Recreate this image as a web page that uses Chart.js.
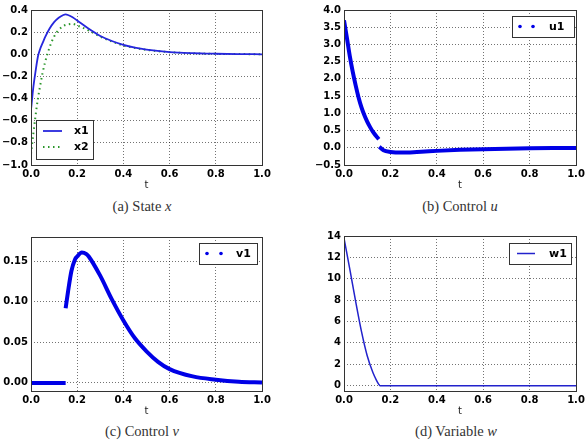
<!DOCTYPE html>
<html><head><meta charset="utf-8">
<script src="https://cdn.jsdelivr.net/npm/chart.js@4/dist/chart.umd.min.js"></script>
<style>
html,body{margin:0;padding:0;background:#fff;}
body{width:588px;height:441px;position:relative;overflow:hidden;}
.panel{position:absolute;}
.cap{position:absolute;font-family:"Liberation Serif","DejaVu Serif",serif;font-size:14.5px;color:#333;text-align:center;width:200px;white-space:nowrap;}
.cap i{font-style:italic;}
</style></head><body>
<div class="panel" style="left:0;top:0;width:294px;height:192px"><canvas id="ca"></canvas></div>
<div class="panel" style="left:294px;top:0;width:294px;height:192px"><canvas id="cb"></canvas></div>
<div class="panel" style="left:0;top:220px;width:294px;height:198px"><canvas id="cc"></canvas></div>
<div class="panel" style="left:294px;top:220px;width:294px;height:198px"><canvas id="cd"></canvas></div>
<div class="cap" style="left:42px;top:198px">(a) State <i>x</i></div>
<div class="cap" style="left:360px;top:198px">(b) Control <i>u</i></div>
<div class="cap" style="left:42px;top:423px">(c) Control <i>v</i></div>
<div class="cap" style="left:356px;top:423px">(d) Variable <i>w</i></div>
<script>
// ---- data ----
const xTicks = [0, 0.2, 0.4, 0.6, 0.8, 1.0];

const tState = [0, 0.01, 0.02, 0.03, 0.04, 0.05, 0.06, 0.08, 0.1, 0.12, 0.14, 0.15, 0.16, 0.18, 0.2, 0.25, 0.3, 0.35, 0.4, 0.45, 0.5, 0.6, 0.7, 0.8, 0.9, 1.0];
const x1 = [-0.5, -0.30, -0.15, -0.02, 0.05, 0.10, 0.15, 0.23, 0.29, 0.33, 0.355, 0.36, 0.355, 0.335, 0.305, 0.23, 0.165, 0.12, 0.085, 0.06, 0.042, 0.02, 0.01, 0.005, 0.002, 0.0];
const x2 = [-0.9, -0.72, -0.55, -0.40, -0.28, -0.17, -0.08, 0.06, 0.16, 0.22, 0.255, 0.265, 0.27, 0.275, 0.26, 0.215, 0.16, 0.115, 0.08, 0.057, 0.04, 0.019, 0.009, 0.004, 0.002, 0.0];

const tUEarly = [0, 0.0125, 0.025, 0.0375, 0.05, 0.0625, 0.075, 0.0875, 0.1, 0.1125, 0.125, 0.1375, 0.15];
const u1Early = [3.7, 3.19, 2.66, 2.21, 1.82, 1.47, 1.18, 0.95, 0.76, 0.6, 0.46, 0.35, 0.25];
const tULate = [0.152, 0.17, 0.2, 0.25, 0.3, 0.35, 0.4, 0.5, 0.6, 0.7, 0.8, 0.9, 1.0];
const u1Late = [0.03, -0.07, -0.12, -0.14, -0.13, -0.11, -0.09, -0.06, -0.04, -0.025, -0.015, -0.008, -0.004];

const tVEarly = [0, 0.15];
const v1Early = [0, 0];
const tVLate = [0.15, 0.16, 0.175, 0.19, 0.2, 0.22, 0.24, 0.25, 0.3, 0.35, 0.4, 0.45, 0.5, 0.55, 0.6, 0.7, 0.8, 0.9, 1.0];
const v1Late = [0.092, 0.112, 0.138, 0.152, 0.156, 0.161, 0.159, 0.156, 0.132, 0.103, 0.077, 0.055, 0.039, 0.026, 0.017, 0.008, 0.004, 0.0015, 0.0005];

const tW = [0, 0.025, 0.05, 0.075, 0.1, 0.125, 0.14, 0.15, 0.155, 1.0];
const w1 = [13.8, 10.9, 7.9, 5.1, 2.8, 1.2, 0.5, 0.12, 0, 0];

// ---- helpers ----
const pts = (t, v) => t.map((x, i) => ({x: x, y: v[i]}));
const gap = (a, b) => a.concat([{x: (a[a.length-1].x + b[0].x) / 2, y: null}], b);

const TICKFONT = {family: '"DejaVu Sans"', size: 10, weight: 'bold'};
const GRID = {color: 'rgba(0,0,0,0.55)', lineWidth: 1, drawTicks: false};
const BORDER = {display: false, dash: [1, 2]};

const frame = {
  id: 'frame',
  afterDatasetsDraw(chart) {
    const {ctx, chartArea: a} = chart;
    ctx.save();
    ctx.strokeStyle = '#333';
    ctx.lineWidth = 1;
    ctx.strokeRect(Math.round(a.left) + 0.5, Math.round(a.top) + 0.5, Math.round(a.right - a.left), Math.round(a.bottom - a.top));
    ctx.restore();
  }
};

const boxLegend = {
  id: 'boxLegend',
  afterDraw(chart, args, o) {
    if (!o || !o.items) return;
    const {ctx, chartArea: a} = chart;
    const x = Math.round(o.right != null ? a.right - o.right - o.w : a.left + o.left);
    const y = Math.round(o.top != null ? a.top + o.top : a.bottom - o.bottom - o.h);
    ctx.save();
    ctx.fillStyle = '#fff';
    ctx.fillRect(x, y, o.w, o.h);
    ctx.strokeStyle = '#333';
    ctx.lineWidth = 1;
    ctx.strokeRect(x + 0.5, y + 0.5, o.w, o.h);
    o.items.forEach((it, i) => {
      const ds = chart.data.datasets[it.ds];
      const cy = y + o.pad + o.row * (i + 0.5);
      if (it.kind === 'dots') {
        ctx.fillStyle = ds.borderColor;
        [o.s1, o.s2].forEach(dx => { ctx.beginPath(); ctx.arc(x + dx, cy, 1.8, 0, Math.PI * 2); ctx.fill(); });
      } else {
        ctx.strokeStyle = ds.borderColor;
        ctx.lineWidth = ds.borderWidth;
        ctx.setLineDash(ds.borderDash || []);
        ctx.beginPath(); ctx.moveTo(x + o.s1, cy); ctx.lineTo(x + o.s2, cy); ctx.stroke();
        ctx.setLineDash([]);
      }
      ctx.fillStyle = '#000';
      ctx.font = 'bold 11px "DejaVu Sans"';
      ctx.textBaseline = 'middle';
      ctx.textAlign = 'left';
      ctx.fillText(ds.label, x + o.tx, cy + 0.5);
    });
    ctx.restore();
  }
};

function makeChart(id, datasets, y, pad, yWidth, legend) {
  return new Chart(document.getElementById(id), {
    type: 'line',
    data: {datasets: datasets},
    options: {
      animation: false,
      responsive: true,
      maintainAspectRatio: false,
      devicePixelRatio: 1,
      layout: {padding: pad},
      elements: {point: {radius: 0}, line: {cubicInterpolationMode: 'monotone'}},
      spanGaps: false,
      plugins: {legend: {display: false}, tooltip: {enabled: false}, boxLegend: legend},
      scales: {
        x: {
          type: 'linear', min: 0, max: 1,
          afterBuildTicks: s => { s.ticks = xTicks.map(v => ({value: v})); },
          ticks: {font: TICKFONT, color: '#000', padding: 3, maxRotation: 0, callback: v => v.toFixed(1)},
          grid: GRID,
          border: BORDER,
          title: {display: true, text: 't', color: '#222', font: {family: '"DejaVu Sans"', size: 10}, padding: {top: 0, bottom: 1}},
          afterFit: s => { s.height = 27; }
        },
        y: {
          type: 'linear', min: y.min, max: y.max,
          ticks: {font: TICKFONT, color: '#000', padding: 3, stepSize: y.step, includeBounds: false,
                  callback: v => { const s = Math.abs(v).toFixed(y.dec); return (v < -1e-9 ? '\u2212' : '') + s; }},
          grid: GRID,
          border: BORDER,
          afterFit: s => { s.width = yWidth; }
        }
      }
    },
    plugins: [frame, boxLegend]
  });
}

makeChart('ca', [
  {label: 'x1', data: pts(tState, x1), borderColor: '#2626dd', borderWidth: 1.8},
  {label: 'x2', data: pts(tState, x2), borderColor: '#2b962b', borderWidth: 2, borderDash: [1.5, 3.5]}
], {min: -1.0, max: 0.4, step: 0.2, dec: 1}, {top: 10, right: 32, bottom: 0, left: 0}, 31,
  {items: [{ds: 0, kind: 'line'}, {ds: 1, kind: 'line'}], left: 5, bottom: 6, w: 57, h: 39, pad: 3, row: 16, s1: 7, s2: 26, tx: 38});

makeChart('cb', [
  {label: 'u1', data: gap(pts(tUEarly, u1Early), pts(tULate, u1Late)), borderColor: '#0000e6', borderWidth: 4}
], {min: -0.5, max: 4.0, step: 0.5, dec: 1}, {top: 10, right: 12, bottom: 0, left: 0}, 50,
  {items: [{ds: 0, kind: 'dots'}], right: 2, top: 6, w: 62, h: 21, pad: 2.5, row: 16, s1: 8, s2: 21, tx: 37});

makeChart('cc', [
  {label: 'v1', data: gap(pts(tVEarly, v1Early), pts(tVLate, v1Late)), borderColor: '#0000e6', borderWidth: 4}
], {min: -0.01, max: 0.18, step: 0.05, dec: 2}, {top: 17, right: 32, bottom: 0, left: 0}, 31,
  {items: [{ds: 0, kind: 'dots'}], right: 5, top: 6, w: 58, h: 21, pad: 2.5, row: 16, s1: 8, s2: 22, tx: 37});

makeChart('cd', [
  {label: 'w1', data: pts(tW, w1), borderColor: '#2222cc', borderWidth: 1.5}
], {min: -0.5, max: 14, step: 2, dec: 0}, {top: 16, right: 12, bottom: 0, left: 0}, 50,
  {items: [{ds: 0, kind: 'line'}], right: 5, top: 7, w: 62, h: 21, pad: 2.5, row: 16, s1: 8, s2: 26, tx: 40});
</script>
</body></html>
